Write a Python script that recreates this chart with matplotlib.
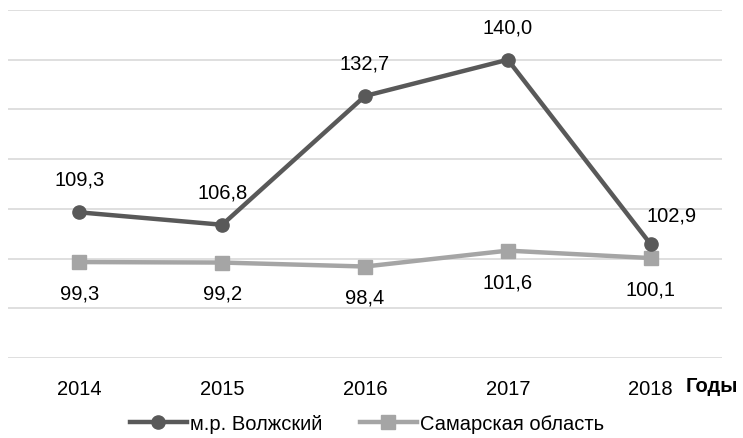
import matplotlib
matplotlib.use('Agg')
import matplotlib.pyplot as plt
from matplotlib.lines import Line2D

years = ['2014', '2015', '2016', '2017', '2018']
volzhsky = [109.3, 106.8, 132.7, 140.0, 102.9]
samara = [99.3, 99.2, 98.4, 101.6, 100.1]
series_names = ['м.р. Волжский', 'Самарская область']
axis_title = 'Годы'

dark = '#595959'
light = '#a5a5a5'
grid_c = '#d9d9d9'

plt.rcParams['font.family'] = ['Liberation Sans', 'DejaVu Sans']
fs = 14.5

fig = plt.figure(figsize=(7.43, 4.38), dpi=100)
W, H = 743, 438
ax = fig.add_axes([8 / W, (H - 358) / H, (722 - 8) / W, (358 - 10) / H])

x = list(range(len(years)))
ax.plot(x, samara, color=light, lw=3.2, marker='s', ms=9.5, zorder=3)
ax.plot(x, volzhsky, color=dark, lw=3.2, marker='o', ms=9.5, zorder=4)

ax.set_xlim(-0.5, len(years) - 0.5)
ax.set_ylim(80, 150)
ax.set_yticks(range(80, 151, 10))
ax.yaxis.grid(True, color=grid_c, lw=1.2)
ax.set_axisbelow(True)
ax.tick_params(axis='y', left=False, labelleft=False)
ax.tick_params(axis='x', length=0, pad=16, labelsize=fs)
ax.set_xticks(x)
ax.set_xticklabels(years)
for s in ax.spines.values():
    s.set_visible(False)

def lab(v):
    return f'{v:.1f}'.replace('.', ',')

for i, v in enumerate(volzhsky):
    dx, dy = (0, 23)
    if i == len(volzhsky) - 1:
        dx, dy = (15, 20)
    ax.annotate(lab(v), (i, v), xytext=(dx, dy), textcoords='offset points',
                ha='center', va='center', fontsize=fs, color='black')
for i, v in enumerate(samara):
    ax.annotate(lab(v), (i, v), xytext=(0, -23), textcoords='offset points',
                ha='center', va='center', fontsize=fs, color='black')

fig.text(686 / W, 1 - 387 / H, axis_title, fontsize=fs, fontweight='bold',
         ha='left', va='center')

handles = [Line2D([], [], color=dark, lw=3.2, marker='o', ms=9.5),
           Line2D([], [], color=light, lw=3.2, marker='s', ms=9.5)]
fig.legend(handles, series_names, loc='center', bbox_to_anchor=(367 / W, 1 - 424 / H),
           ncol=2, frameon=False, fontsize=fs, handlelength=2.8, handletextpad=0.15,
           columnspacing=1.9)

fig.savefig('out.png', dpi=100)
